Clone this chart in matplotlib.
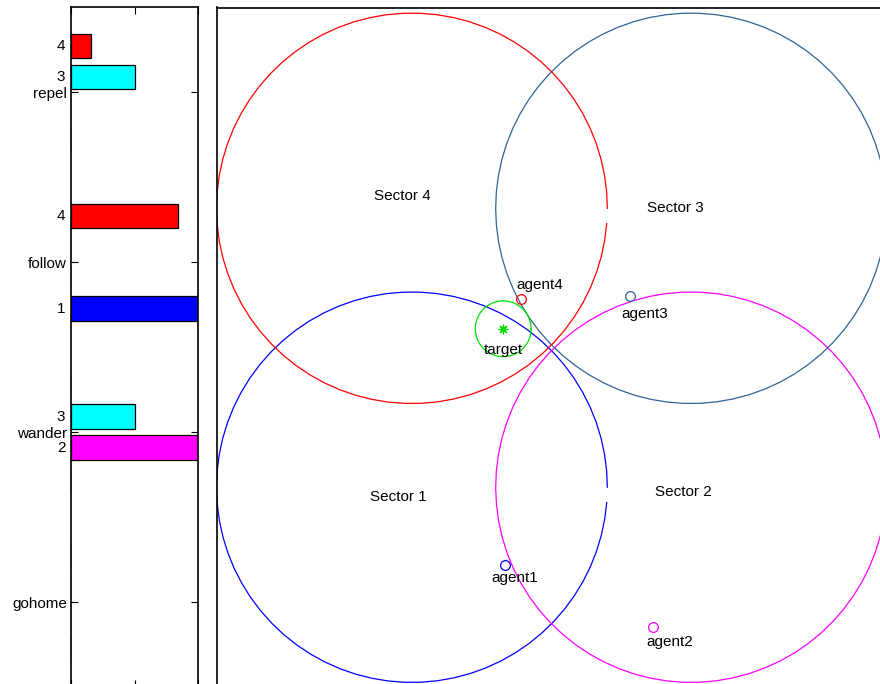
import numpy as np
import matplotlib
matplotlib.use('Agg')
import matplotlib.pyplot as plt

plt.rcParams['font.family'] = ['Liberation Sans', 'DejaVu Sans']

# behaviour activation per agent (left panel)
behaviours = ['gohome', 'wander', 'follow', 'repel']
agent_ids = ['1', '2', '3', '4']
act_agent1 = [0, 0, 2.4, 0]
act_agent2 = [0, 2.4, 0, 0]
act_agent3 = [0, 1.0, 0, 1.0]
act_agent4 = [0, 0, 1.68, 0.32]
bar_colors = ['#0000ff', '#ff00ff', '#00ffff', '#ff0000']

# world (right panel)
sector_names = ['Sector 1', 'Sector 2', 'Sector 3', 'Sector 4']
sector_x = [-0.5, 0.5, 0.5, -0.5]
sector_y = [-0.5, -0.5, 0.5, 0.5]
sector_r = 0.7
sector_label_x = [-0.549, 0.472, 0.443, -0.535]
sector_label_y = [-0.534, -0.517, 0.501, 0.544]
sector_colors = ['#0000ff', '#ff00ff', '#2f6496', '#ff0000']

agent_names = ['agent1', 'agent2', 'agent3', 'agent4']
agent_x = [-0.166, 0.365, 0.282, -0.109]
agent_y = [-0.778, -1.0, 0.186, 0.175]
agent_label_off = [(10, -13), (16, -15), (15, -18), (19, 14)]

target_x = -0.173
target_y = 0.068
target_r = 0.1

W, H = 880, 684
fig = plt.figure(figsize=(W / 100, H / 100), dpi=100)

# left: grouped barh
ax1 = fig.add_axes([71 / W, 1 - 687 / H, 127 / W, 679.5 / H])
acts = [act_agent1, act_agent2, act_agent3, act_agent4]
ypos = np.arange(1, len(behaviours) + 1)
n = len(acts)
gw = min(0.8, n / (n + 1.5))
step = gw / n
for i, a in enumerate(acts):
    off = (i - (n - 1) / 2) * step
    for j, v in enumerate(a):
        if v > 0:
            ax1.barh(ypos[j] + off, v, height=step * 0.8, color=bar_colors[i],
                     edgecolor='black', linewidth=0.9, zorder=2)
            ax1.annotate(agent_ids[i], xy=(0, ypos[j] + off),
                         xycoords=('axes fraction', 'data'),
                         xytext=(-4, 0), textcoords='offset points',
                         ha='right', va='center', fontsize=11)
        else:
            ax1.barh(ypos[j] + off, v, height=step * 0.8, color=bar_colors[i],
                     edgecolor=bar_colors[i], linewidth=0.4, alpha=0.6, zorder=1)
ax1.set_xlim(0, 2)
ax1.set_ylim(0.5, 4.5)
ax1.set_yticks(ypos)
ax1.set_yticklabels(behaviours, fontsize=11)
ax1.set_xticks([0, 1, 2])
ax1.set_xticklabels([])
ax1.tick_params(direction='in', length=5, width=0.8, top=True, right=True, pad=3)
for s in ax1.spines.values():
    s.set_linewidth(1.2)

# right: sectors, agents, target
ax2 = fig.add_axes([216.5 / W, 1 - 688 / H, 670 / W, 680.5 / H])
theta = np.arange(0, 2 * np.pi, 0.085)
for i in range(len(sector_names)):
    ax2.plot(sector_x[i] + sector_r * np.cos(theta),
             sector_y[i] + sector_r * np.sin(theta),
             color=sector_colors[i], lw=0.9)
    ax2.text(sector_label_x[i], sector_label_y[i], sector_names[i],
             ha='center', va='center', fontsize=11)

for i in range(len(agent_names)):
    ax2.plot(agent_x[i], agent_y[i], 'o', mfc='none', mec=sector_colors[i],
             ms=7, mew=0.9)
    ax2.annotate(agent_names[i], xy=(agent_x[i], agent_y[i]),
                 xytext=agent_label_off[i], textcoords='offset pixels',
                 ha='center', va='center', fontsize=11)

tt = np.linspace(0, 2 * np.pi, 100)
ax2.plot(target_x + target_r * np.cos(tt), target_y + target_r * np.sin(tt),
         color='#00dd00', lw=0.9)
ax2.plot(target_x, target_y, marker=(8, 2, 0), color='#00dd00', ms=7, mew=0.9)
ax2.annotate('target', xy=(target_x, target_y), xytext=(0, -21),
             textcoords='offset pixels', ha='center', va='center', fontsize=11)

ax2.set_xlim(-1.2, 1.2)
ax2.set_ylim(-1.22, 1.22)
ax2.set_xticks([])
ax2.set_yticks([])
for s in ax2.spines.values():
    s.set_linewidth(1.2)

fig.savefig('out.png', dpi=100)
